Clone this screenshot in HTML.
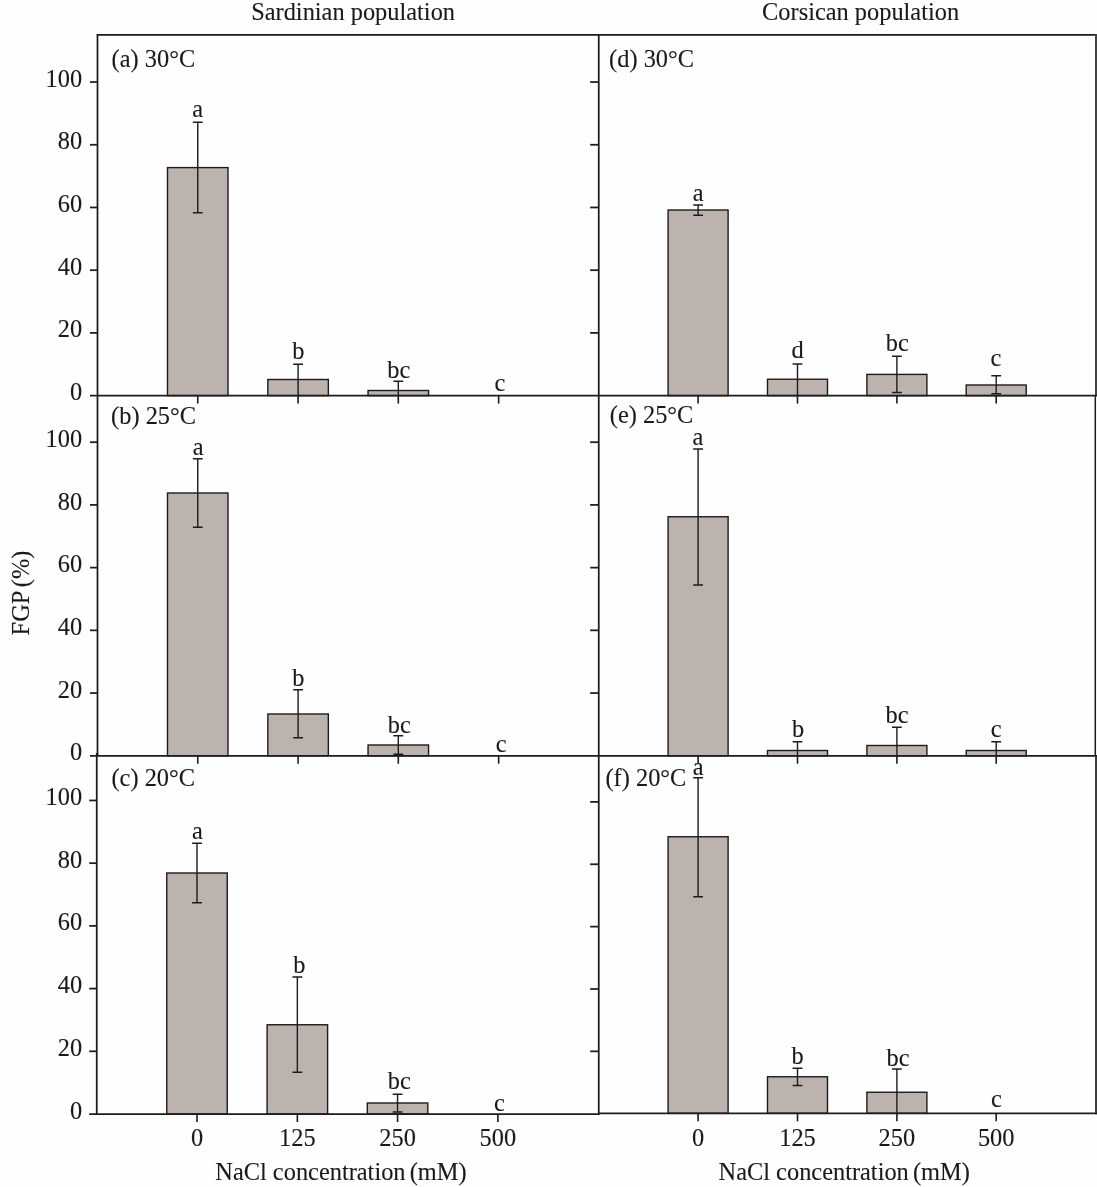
<!DOCTYPE html>
<html lang="en"><head><meta charset="utf-8"><title>FGP vs NaCl concentration</title>
<style>html,body{margin:0;padding:0;background:#fefefe;}svg{display:block;}</style></head>
<body>
<svg width="1097" height="1187" viewBox="0 0 1097 1187" font-family="'Liberation Serif', serif" font-size="24.4" fill="#1a1a1a" stroke="none">
<rect x="0" y="0" width="1097" height="1187" fill="#fefefe"/>
<g stroke="#1c1c1c" fill="#bcb3ae" stroke-width="1.4">
<rect x="167.50" y="167.60" width="60.50" height="228.00"/>
<rect x="267.85" y="379.50" width="60.50" height="16.10"/>
<rect x="368.05" y="390.50" width="60.50" height="5.10"/>
<rect x="167.50" y="493.00" width="60.50" height="262.75"/>
<rect x="267.85" y="714.00" width="60.50" height="41.75"/>
<rect x="368.05" y="745.00" width="60.50" height="10.75"/>
<rect x="166.75" y="873.00" width="60.50" height="241.00"/>
<rect x="267.10" y="1024.75" width="60.50" height="89.25"/>
<rect x="367.30" y="1103.00" width="60.50" height="11.00"/>
<rect x="668.10" y="210.00" width="60.00" height="185.60"/>
<rect x="767.50" y="379.25" width="60.00" height="16.35"/>
<rect x="866.90" y="374.40" width="60.00" height="21.20"/>
<rect x="966.20" y="385.00" width="60.00" height="10.60"/>
<rect x="668.10" y="516.75" width="60.00" height="239.00"/>
<rect x="767.50" y="750.50" width="60.00" height="5.25"/>
<rect x="866.90" y="745.50" width="60.00" height="10.25"/>
<rect x="966.20" y="750.50" width="60.00" height="5.25"/>
<rect x="668.10" y="836.75" width="60.00" height="276.60"/>
<rect x="767.50" y="1076.75" width="60.00" height="36.60"/>
<rect x="866.90" y="1092.25" width="60.00" height="21.10"/>
</g>
<g stroke="#1c1c1c" stroke-width="1.4" fill="none">
<path d="M192.85 122.30H202.65M197.75 122.30V212.75M192.85 212.75H202.65"/>
<path d="M293.20 364.25H303.00M298.10 364.25V395.60"/>
<path d="M393.40 381.25H403.20M398.30 381.25V395.60"/>
<path d="M192.85 458.75H202.65M197.75 458.75V527.25M192.85 527.25H202.65"/>
<path d="M293.20 689.75H303.00M298.10 689.75V737.75M293.20 737.75H303.00"/>
<path d="M393.40 735.75H403.20M398.30 735.75V754.30M393.40 754.30H403.20"/>
<path d="M192.10 843.25H201.90M197.00 843.25V902.75M192.10 902.75H201.90"/>
<path d="M292.45 977.00H302.25M297.35 977.00V1072.25M292.45 1072.25H302.25"/>
<path d="M392.65 1094.25H402.45M397.55 1094.25V1112.00M392.65 1112.00H402.45"/>
<path d="M693.20 205.00H703.00M698.10 205.00V215.25M693.20 215.25H703.00"/>
<path d="M792.60 364.00H802.40M797.50 364.00V395.60"/>
<path d="M892.00 356.25H901.80M896.90 356.25V392.50M892.00 392.50H901.80"/>
<path d="M991.30 375.75H1001.10M996.20 375.75V393.75M991.30 393.75H1001.10"/>
<path d="M693.20 449.00H703.00M698.10 449.00V585.00M693.20 585.00H703.00"/>
<path d="M792.60 741.75H802.40M797.50 741.75V755.75"/>
<path d="M892.00 727.25H901.80M896.90 727.25V755.75"/>
<path d="M991.30 741.75H1001.10M996.20 741.75V755.75"/>
<path d="M693.20 777.75H703.00M698.10 777.75V896.75M693.20 896.75H703.00"/>
<path d="M792.60 1068.25H802.40M797.50 1068.25V1085.50M792.60 1085.50H802.40"/>
<path d="M892.00 1069.00H901.80M896.90 1069.00V1113.35"/>
</g>
<g stroke="#1c1c1c" stroke-linecap="butt">
<line x1="96.62" y1="34.90" x2="1097.00" y2="34.90" stroke-width="1.75"/>
<line x1="97.50" y1="34.90" x2="97.50" y2="755.75" stroke-width="1.75"/>
<line x1="96.75" y1="753.00" x2="96.75" y2="1114.88" stroke-width="1.75"/>
<line x1="598.75" y1="34.90" x2="598.75" y2="1114.88" stroke-width="1.75"/>
<line x1="1096.00" y1="34.02" x2="1096.00" y2="395.60" stroke-width="2.0" stroke="#444"/>
<line x1="1095.30" y1="395.60" x2="1095.30" y2="755.75" stroke-width="1.5"/>
<line x1="1096.00" y1="755.75" x2="1096.00" y2="1114.22" stroke-width="2.0" stroke="#3c3c3c"/>
<line x1="90.00" y1="395.60" x2="1097.00" y2="395.60" stroke-width="1.75"/>
<line x1="90.00" y1="755.75" x2="1097.00" y2="755.75" stroke-width="1.75"/>
<line x1="89.25" y1="1114.00" x2="598.75" y2="1114.00" stroke-width="1.75"/>
<line x1="598.75" y1="1113.35" x2="1097.00" y2="1113.35" stroke-width="1.75"/>
<line x1="90.00" y1="332.89" x2="97.50" y2="332.89" stroke-width="1.75"/>
<line x1="590.15" y1="332.89" x2="598.75" y2="332.89" stroke-width="1.75"/>
<line x1="90.00" y1="270.18" x2="97.50" y2="270.18" stroke-width="1.75"/>
<line x1="590.15" y1="270.18" x2="598.75" y2="270.18" stroke-width="1.75"/>
<line x1="90.00" y1="207.47" x2="97.50" y2="207.47" stroke-width="1.75"/>
<line x1="590.15" y1="207.47" x2="598.75" y2="207.47" stroke-width="1.75"/>
<line x1="90.00" y1="144.76" x2="97.50" y2="144.76" stroke-width="1.75"/>
<line x1="590.15" y1="144.76" x2="598.75" y2="144.76" stroke-width="1.75"/>
<line x1="90.00" y1="82.05" x2="97.50" y2="82.05" stroke-width="1.75"/>
<line x1="590.15" y1="82.05" x2="598.75" y2="82.05" stroke-width="1.75"/>
<line x1="90.00" y1="693.04" x2="97.50" y2="693.04" stroke-width="1.75"/>
<line x1="590.15" y1="693.04" x2="598.75" y2="693.04" stroke-width="1.75"/>
<line x1="90.00" y1="630.33" x2="97.50" y2="630.33" stroke-width="1.75"/>
<line x1="590.15" y1="630.33" x2="598.75" y2="630.33" stroke-width="1.75"/>
<line x1="90.00" y1="567.62" x2="97.50" y2="567.62" stroke-width="1.75"/>
<line x1="590.15" y1="567.62" x2="598.75" y2="567.62" stroke-width="1.75"/>
<line x1="90.00" y1="504.91" x2="97.50" y2="504.91" stroke-width="1.75"/>
<line x1="590.15" y1="504.91" x2="598.75" y2="504.91" stroke-width="1.75"/>
<line x1="90.00" y1="442.20" x2="97.50" y2="442.20" stroke-width="1.75"/>
<line x1="590.15" y1="442.20" x2="598.75" y2="442.20" stroke-width="1.75"/>
<line x1="89.25" y1="1051.29" x2="96.75" y2="1051.29" stroke-width="1.75"/>
<line x1="590.15" y1="1051.34" x2="598.75" y2="1051.34" stroke-width="1.75"/>
<line x1="89.25" y1="988.58" x2="96.75" y2="988.58" stroke-width="1.75"/>
<line x1="590.15" y1="988.98" x2="598.75" y2="988.98" stroke-width="1.75"/>
<line x1="89.25" y1="925.87" x2="96.75" y2="925.87" stroke-width="1.75"/>
<line x1="590.15" y1="926.62" x2="598.75" y2="926.62" stroke-width="1.75"/>
<line x1="89.25" y1="863.16" x2="96.75" y2="863.16" stroke-width="1.75"/>
<line x1="590.15" y1="864.26" x2="598.75" y2="864.26" stroke-width="1.75"/>
<line x1="89.25" y1="800.45" x2="96.75" y2="800.45" stroke-width="1.75"/>
<line x1="590.15" y1="801.90" x2="598.75" y2="801.90" stroke-width="1.75"/>
<line x1="197.75" y1="395.60" x2="197.75" y2="403.60" stroke-width="1.6"/>
<line x1="298.10" y1="395.60" x2="298.10" y2="403.60" stroke-width="1.6"/>
<line x1="398.30" y1="395.60" x2="398.30" y2="403.60" stroke-width="1.6"/>
<line x1="498.65" y1="395.60" x2="498.65" y2="403.60" stroke-width="1.6"/>
<line x1="197.75" y1="755.75" x2="197.75" y2="763.75" stroke-width="1.6"/>
<line x1="298.10" y1="755.75" x2="298.10" y2="763.75" stroke-width="1.6"/>
<line x1="398.30" y1="755.75" x2="398.30" y2="763.75" stroke-width="1.6"/>
<line x1="498.65" y1="755.75" x2="498.65" y2="763.75" stroke-width="1.6"/>
<line x1="197.00" y1="1114.00" x2="197.00" y2="1122.00" stroke-width="1.6"/>
<line x1="297.35" y1="1114.00" x2="297.35" y2="1122.00" stroke-width="1.6"/>
<line x1="397.55" y1="1114.00" x2="397.55" y2="1122.00" stroke-width="1.6"/>
<line x1="497.90" y1="1114.00" x2="497.90" y2="1122.00" stroke-width="1.6"/>
<line x1="698.10" y1="395.60" x2="698.10" y2="403.60" stroke-width="1.6"/>
<line x1="797.50" y1="395.60" x2="797.50" y2="403.60" stroke-width="1.6"/>
<line x1="896.90" y1="395.60" x2="896.90" y2="403.60" stroke-width="1.6"/>
<line x1="996.20" y1="395.60" x2="996.20" y2="403.60" stroke-width="1.6"/>
<line x1="698.10" y1="755.75" x2="698.10" y2="763.75" stroke-width="1.6"/>
<line x1="797.50" y1="755.75" x2="797.50" y2="763.75" stroke-width="1.6"/>
<line x1="896.90" y1="755.75" x2="896.90" y2="763.75" stroke-width="1.6"/>
<line x1="996.20" y1="755.75" x2="996.20" y2="763.75" stroke-width="1.6"/>
<line x1="698.10" y1="1113.35" x2="698.10" y2="1121.35" stroke-width="1.6"/>
<line x1="797.50" y1="1113.35" x2="797.50" y2="1121.35" stroke-width="1.6"/>
<line x1="896.90" y1="1113.35" x2="896.90" y2="1121.35" stroke-width="1.6"/>
<line x1="996.20" y1="1113.35" x2="996.20" y2="1121.35" stroke-width="1.6"/>
</g>
<g stroke="#1a1a1a" stroke-width="0.12" stroke-linejoin="round">
<text transform="translate(82.20 400.20) scale(1 1.015)" text-anchor="end">0</text>
<text transform="translate(82.20 337.49) scale(1 1.015)" text-anchor="end">20</text>
<text transform="translate(82.20 274.78) scale(1 1.015)" text-anchor="end">40</text>
<text transform="translate(82.20 212.07) scale(1 1.015)" text-anchor="end">60</text>
<text transform="translate(82.20 149.36) scale(1 1.015)" text-anchor="end">80</text>
<text transform="translate(82.20 86.65) scale(1 1.015)" text-anchor="end">100</text>
<text transform="translate(82.20 760.35) scale(1 1.015)" text-anchor="end">0</text>
<text transform="translate(82.20 697.64) scale(1 1.015)" text-anchor="end">20</text>
<text transform="translate(82.20 634.93) scale(1 1.015)" text-anchor="end">40</text>
<text transform="translate(82.20 572.22) scale(1 1.015)" text-anchor="end">60</text>
<text transform="translate(82.20 509.51) scale(1 1.015)" text-anchor="end">80</text>
<text transform="translate(82.20 446.80) scale(1 1.015)" text-anchor="end">100</text>
<text transform="translate(82.20 1118.60) scale(1 1.015)" text-anchor="end">0</text>
<text transform="translate(82.20 1055.89) scale(1 1.015)" text-anchor="end">20</text>
<text transform="translate(82.20 993.18) scale(1 1.015)" text-anchor="end">40</text>
<text transform="translate(82.20 930.47) scale(1 1.015)" text-anchor="end">60</text>
<text transform="translate(82.20 867.76) scale(1 1.015)" text-anchor="end">80</text>
<text transform="translate(82.20 805.05) scale(1 1.015)" text-anchor="end">100</text>
<text transform="translate(197.00 1145.50) scale(1 1.05)" text-anchor="middle">0</text>
<text transform="translate(297.35 1145.50) scale(1 1.05)" text-anchor="middle">125</text>
<text transform="translate(397.55 1145.50) scale(1 1.05)" text-anchor="middle">250</text>
<text transform="translate(497.90 1145.50) scale(1 1.05)" text-anchor="middle">500</text>
<text transform="translate(698.10 1145.50) scale(1 1.05)" text-anchor="middle">0</text>
<text transform="translate(797.50 1145.50) scale(1 1.05)" text-anchor="middle">125</text>
<text transform="translate(896.90 1145.50) scale(1 1.05)" text-anchor="middle">250</text>
<text transform="translate(996.20 1145.50) scale(1 1.05)" text-anchor="middle">500</text>
<text transform="translate(353.10 20.00) scale(1 1.05)" text-anchor="middle">Sardinian population</text>
<text transform="translate(860.60 20.00) scale(1 1.05)" text-anchor="middle">Corsican population</text>
<text transform="translate(215.30 1179.70) scale(1 1.05)">NaCl concentration <tspan dx="-2">(mM)</tspan></text>
<text transform="translate(718.55 1179.70) scale(1 1.05)">NaCl concentration <tspan dx="-2">(mM)</tspan></text>
<text transform="translate(29.4 635.4) rotate(-90) scale(1 1.05)">FGP <tspan dx="-1.75">(%)</tspan></text>
<text transform="translate(111.60 66.50) scale(1 1.05)">(a) 30°C</text>
<text transform="translate(197.75 117.40) scale(1 1.05)" text-anchor="middle">a</text>
<text transform="translate(298.40 359.40) scale(1 1.05)" text-anchor="middle">b</text>
<text transform="translate(398.75 378.15) scale(1 1.05)" text-anchor="middle">bc</text>
<text transform="translate(500.00 390.65) scale(1 1.05)" text-anchor="middle">c</text>
<text transform="translate(111.10 423.60) scale(1 1.05)">(b) 25°C</text>
<text transform="translate(198.10 455.40) scale(1 1.05)" text-anchor="middle">a</text>
<text transform="translate(298.40 686.15) scale(1 1.05)" text-anchor="middle">b</text>
<text transform="translate(399.20 732.90) scale(1 1.05)" text-anchor="middle">bc</text>
<text transform="translate(501.20 752.15) scale(1 1.05)" text-anchor="middle">c</text>
<text transform="translate(111.50 786.25) scale(1 1.05)">(c) 20°C</text>
<text transform="translate(197.30 838.80) scale(1 1.05)" text-anchor="middle">a</text>
<text transform="translate(299.40 972.60) scale(1 1.05)" text-anchor="middle">b</text>
<text transform="translate(399.30 1088.60) scale(1 1.05)" text-anchor="middle">bc</text>
<text transform="translate(499.40 1110.70) scale(1 1.05)" text-anchor="middle">c</text>
<text transform="translate(609.10 66.50) scale(1 1.05)">(d) 30°C</text>
<text transform="translate(698.20 200.90) scale(1 1.05)" text-anchor="middle">a</text>
<text transform="translate(797.50 357.90) scale(1 1.05)" text-anchor="middle">d</text>
<text transform="translate(897.20 350.90) scale(1 1.05)" text-anchor="middle">bc</text>
<text transform="translate(995.80 365.65) scale(1 1.05)" text-anchor="middle">c</text>
<text transform="translate(609.80 423.20) scale(1 1.05)">(e) 25°C</text>
<text transform="translate(697.90 445.00) scale(1 1.05)" text-anchor="middle">a</text>
<text transform="translate(798.20 736.75) scale(1 1.05)" text-anchor="middle">b</text>
<text transform="translate(897.10 723.00) scale(1 1.05)" text-anchor="middle">bc</text>
<text transform="translate(996.20 736.75) scale(1 1.05)" text-anchor="middle">c</text>
<text transform="translate(605.50 786.25) scale(1 1.05)">(f) 20°C</text>
<text transform="translate(698.20 774.50) scale(1 1.05)" text-anchor="middle">a</text>
<text transform="translate(797.60 1064.00) scale(1 1.05)" text-anchor="middle">b</text>
<text transform="translate(898.00 1066.00) scale(1 1.05)" text-anchor="middle">bc</text>
<text transform="translate(996.40 1107.25) scale(1 1.05)" text-anchor="middle">c</text>
</g>
</svg>
</body></html>
